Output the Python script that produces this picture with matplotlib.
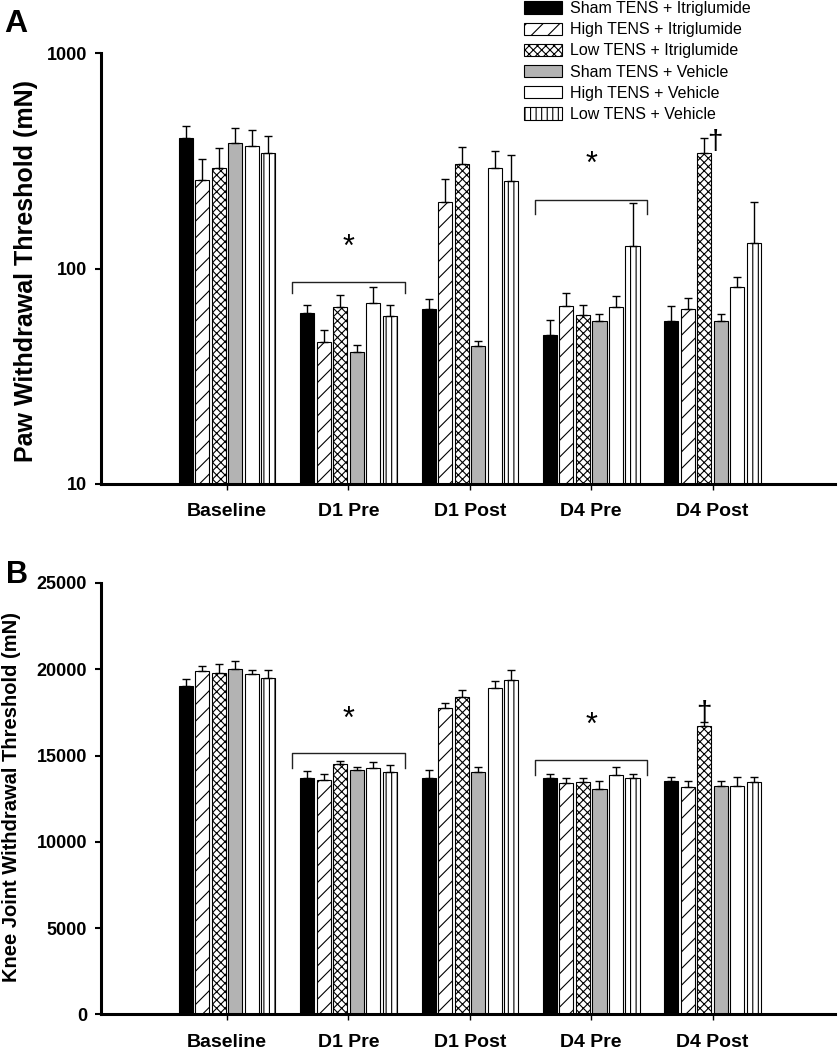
import numpy as np
import matplotlib
matplotlib.use("Agg")
import matplotlib.pyplot as plt
from matplotlib.patches import Patch

plt.rcParams['font.family'] = ['Liberation Sans', 'DejaVu Sans']
plt.rcParams['hatch.linewidth'] = 0.8

# ---------------- data ----------------
timepoints = ["Baseline", "D1 Pre", "D1 Post", "D4 Pre", "D4 Post"]
groups = ["Sham TENS + Itriglumide", "High TENS + Itriglumide", "Low TENS + Itriglumide",
          "Sham TENS + Vehicle", "High TENS + Vehicle", "Low TENS + Vehicle"]

# Panel A: paw withdrawal threshold (mN), mean and SEM (upper)
paw_sham_itri = [403, 62, 65, 49, 57]
paw_high_itri = [257, 45.6, 204, 67, 65]
paw_low_itri = [294, 66, 305, 61, 343]
paw_sham_veh = [381, 41, 43.5, 57, 57]
paw_high_veh = [372, 69, 292, 66, 82]
paw_low_veh = [343, 60, 256, 127, 131]

paw_sem_sham_itri = [57, 6, 7, 8.5, 10]
paw_sem_high_itri = [65, 6, 56, 10, 8]
paw_sem_low_itri = [68, 9, 60, 7, 60]
paw_sem_sham_veh = [67, 3.3, 2.5, 4.3, 4.3]
paw_sem_high_veh = [68, 13, 59, 8.6, 9.4]
paw_sem_low_veh = [69, 8, 80, 75, 73]

# Panel B: knee joint withdrawal threshold (mN), mean and SEM (upper)
knee_sham_itri = [19030, 13700, 13700, 13700, 13530]
knee_high_itri = [19890, 13570, 17780, 13380, 13150]
knee_low_itri = [19790, 14500, 18400, 13440, 16700]
knee_sham_veh = [20020, 14150, 14050, 13050, 13240]
knee_high_veh = [19710, 14250, 18940, 13860, 13240]
knee_low_veh = [19500, 14020, 19400, 13700, 13440]

knee_sem_sham_itri = [390, 390, 450, 220, 230]
knee_sem_high_itri = [290, 350, 290, 320, 360]
knee_sem_low_itri = [500, 190, 390, 260, 250]
knee_sem_sham_veh = [460, 190, 260, 480, 270]
knee_sem_high_veh = [230, 350, 380, 450, 520]
knee_sem_low_veh = [440, 420, 540, 200, 320]

paw_means = [paw_sham_itri, paw_high_itri, paw_low_itri, paw_sham_veh, paw_high_veh, paw_low_veh]
paw_sems = [paw_sem_sham_itri, paw_sem_high_itri, paw_sem_low_itri,
            paw_sem_sham_veh, paw_sem_high_veh, paw_sem_low_veh]
knee_means = [knee_sham_itri, knee_high_itri, knee_low_itri, knee_sham_veh, knee_high_veh, knee_low_veh]
knee_sems = [knee_sem_sham_itri, knee_sem_high_itri, knee_sem_low_itri,
             knee_sem_sham_veh, knee_sem_high_veh, knee_sem_low_veh]

# ---------------- styles ----------------
facecolors = ["black", "white", "white", "#b3b3b3", "white", "white"]
hatches = [None, "//", "xxxx", None, None, "|||"]

W, H = 839, 1050
fig = plt.figure(figsize=(W / 100, H / 100), dpi=100)

def fx(px):
    return px / W

def fy(py):
    return 1 - py / H

axA = fig.add_axes([fx(101), fy(484), fx(835) - fx(101), fy(53) - fy(484)])
axB = fig.add_axes([fx(101), fy(1014.3), fx(835) - fx(101), fy(583) - fy(1014.3)])

pitch = 0.136
bw = 0.116
xc = np.arange(len(timepoints))


def draw(ax, means, sems, bottom):
    for k in range(6):
        xs = xc + (k - 2.5) * pitch
        m = np.array(means[k], dtype=float)
        s = np.array(sems[k], dtype=float)
        ax.bar(xs, m - bottom, bottom=bottom, width=bw, color=facecolors[k],
               edgecolor="black", linewidth=0.8, hatch=hatches[k], zorder=2)
        ax.errorbar(xs, m, yerr=[np.zeros_like(s), s], fmt="none", ecolor="black",
                    elinewidth=1.0, capsize=3.2, capthick=1.0, zorder=3)
    ax.set_xlim(-1.038, 5.008)
    ax.set_xticks(xc)
    ax.set_xticklabels(timepoints, fontsize=14, fontweight="bold")
    for sp in ["top", "right"]:
        ax.spines[sp].set_visible(False)
    for sp in ["left", "bottom"]:
        ax.spines[sp].set_linewidth(2.2)
    ax.tick_params(axis="x", length=4, width=1.0, pad=10, direction="out")
    ax.tick_params(axis="y", length=4, width=1.5, pad=6, direction="out")
    for lab in ax.get_yticklabels():
        lab.set_fontweight("bold")
        lab.set_fontsize(13)


def bracket(ax, center, ybot, ytop, half=0.462):
    ax.plot([center - half, center - half, center + half, center + half],
            [ybot, ytop, ytop, ybot], color="#222222", lw=1.0, zorder=4,
            solid_joinstyle="round")


# Panel A (log scale)
axA.set_yscale("log")
draw(axA, paw_means, paw_sems, 10)
axA.set_ylim(10, 1000)
axA.set_yticks([10, 100, 1000])
axA.set_yticklabels(["10", "100", "1000"], fontsize=13, fontweight="bold")
axA.yaxis.set_minor_locator(matplotlib.ticker.NullLocator())
bracket(axA, 1, 76.8, 86.3)
bracket(axA, 3, 179, 208)
axA.text(1, 125, "*", ha="center", va="center", fontsize=22)
axA.text(3, 303, "*", ha="center", va="center", fontsize=22)
axA.text(4 + (2 - 2.5) * pitch + 0.085, 338, "\u2020", ha="center", va="bottom",
         fontsize=20)

# Panel B (linear)
draw(axB, knee_means, knee_sems, 0)
axB.set_ylim(0, 25000)
axB.set_yticks([0, 5000, 10000, 15000, 20000, 25000])
axB.set_yticklabels(["0", "5000", "10000", "15000", "20000", "25000"],
                    fontsize=13, fontweight="bold")
bracket(axB, 1, 14267, 15153)
bracket(axB, 3, 13861, 14730)
axB.text(1, 17087, "*", ha="center", va="center", fontsize=22)
axB.text(3, 16700, "*", ha="center", va="center", fontsize=22)
axB.text(4 + (2 - 2.5) * pitch, 16700, "\u2020", ha="center", va="bottom",
         fontsize=20)

# Axis titles & panel letters
fig.text(fx(26), fy(271), "Paw Withdrawal Threshold (mN)", rotation=90,
         ha="center", va="center", fontsize=18, fontweight="bold")
fig.text(fx(12), fy(797), "Knee Joint Withdrawal Threshold (mN)", rotation=90,
         ha="center", va="center", fontsize=14.5, fontweight="bold")
fig.text(fx(4), fy(32), "A", fontsize=23, fontweight="bold", ha="left", va="baseline")
fig.text(fx(6), fy(583), "B", fontsize=22, fontweight="bold", ha="left", va="baseline")

# Legend
handles = [Patch(facecolor=facecolors[k], edgecolor="black", hatch=hatches[k], linewidth=0.8)
           for k in range(6)]
fig.legend(handles, groups, loc="upper left", bbox_to_anchor=(fx(524), fy(1)),
           frameon=False, fontsize=11.5, handlelength=2.4, handleheight=0.8,
           handletextpad=0.5, labelspacing=0.39, borderpad=0, borderaxespad=0)

fig.savefig("out.png", dpi=100)
